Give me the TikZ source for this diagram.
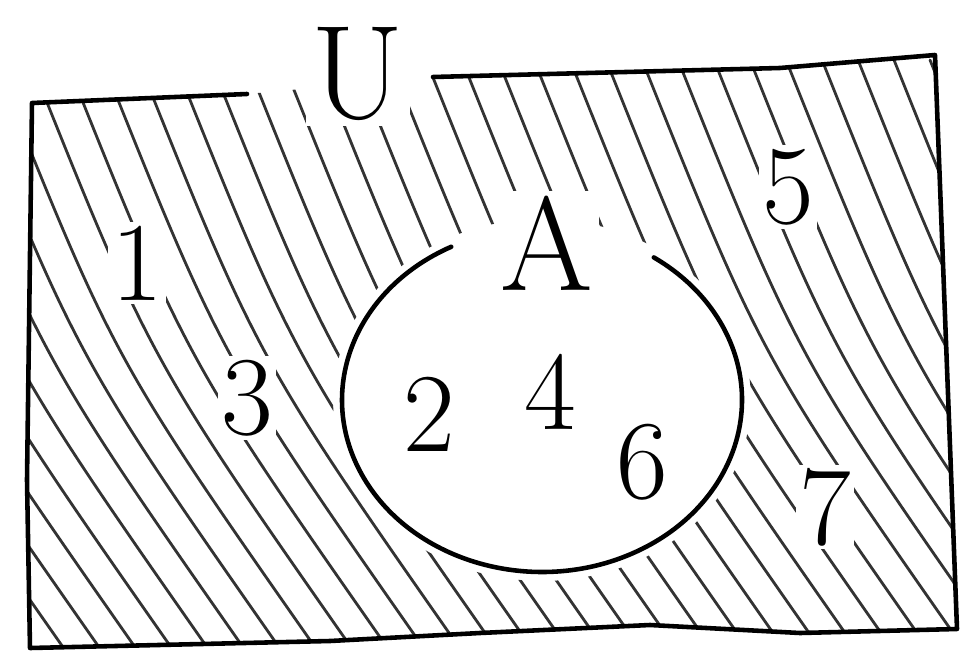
\documentclass[tikz,border=0pt]{standalone}
\usepackage{fontspec}
\tikzset{
  frame/.style={line width=2.6pt, line join=round, line cap=round},
  hatch/.style={line width=1.6pt, black!80, line cap=round},
  numlbl/.style={font=\fontsize{64}{68}\selectfont, inner sep=2pt},
  outlbl/.style={numlbl, fill=white},
  setlbl/.style={font=\fontsize{76}{80}\selectfont, inner sep=3pt, fill=white},
}
\begin{document}
\begin{tikzpicture}[x=0.02cm, y=-0.02cm]
  \useasboundingbox (0,0) rectangle (962,655);
  \coordinate (ctr) at (542,400);

  % hatching of the complement of A
  \begin{scope}[even odd rule]
    \clip (247,94) -- (32,103) -- (27,480) -- (30,648) -- (330,641)
      -- (480,633) -- (650,625) -- (800,633) -- (957,629) -- (935,55) -- (780,68)
      -- (433,77) -- cycle
      (ctr) ellipse [x radius=4.18cm, y radius=3.62cm];
    \foreach \x in {-330,-294,...,960} {
      \draw[hatch] (\x,60) .. controls (\x+120,360) .. (\x+330,660);
    }
  \end{scope}

  % universe U, open at the top for its name
  \draw[frame] (247,94) -- (32,103) -- (27,480) -- (30,648) -- (330,641)
    -- (480,633) -- (650,625) -- (800,633) -- (957,629) -- (935,55) -- (780,68)
    -- (433,77);

  % set A, open at the top for its name
  \draw[frame] ([shift={(117:4cm and 3.44cm)}]ctr)
    arc[start angle=117, end angle=416, x radius=4cm, y radius=3.44cm];

  \node[setlbl] (lblU) at (358,74)  {U};
  \node[setlbl] (lblA) at (547,243) {A};

  \node[outlbl] (n1) at (137,263) {1};
  \node[outlbl] (n3) at (247,398) {3};
  \node[outlbl] (n5) at (788,187) {5};
  \node[outlbl] (n7) at (825,507) {7};

  \node[numlbl] (n2) at (429,414) {2};
  \node[numlbl] (n4) at (550,392) {4};
  \node[numlbl] (n6) at (642,462) {6};
\end{tikzpicture}
\end{document}
